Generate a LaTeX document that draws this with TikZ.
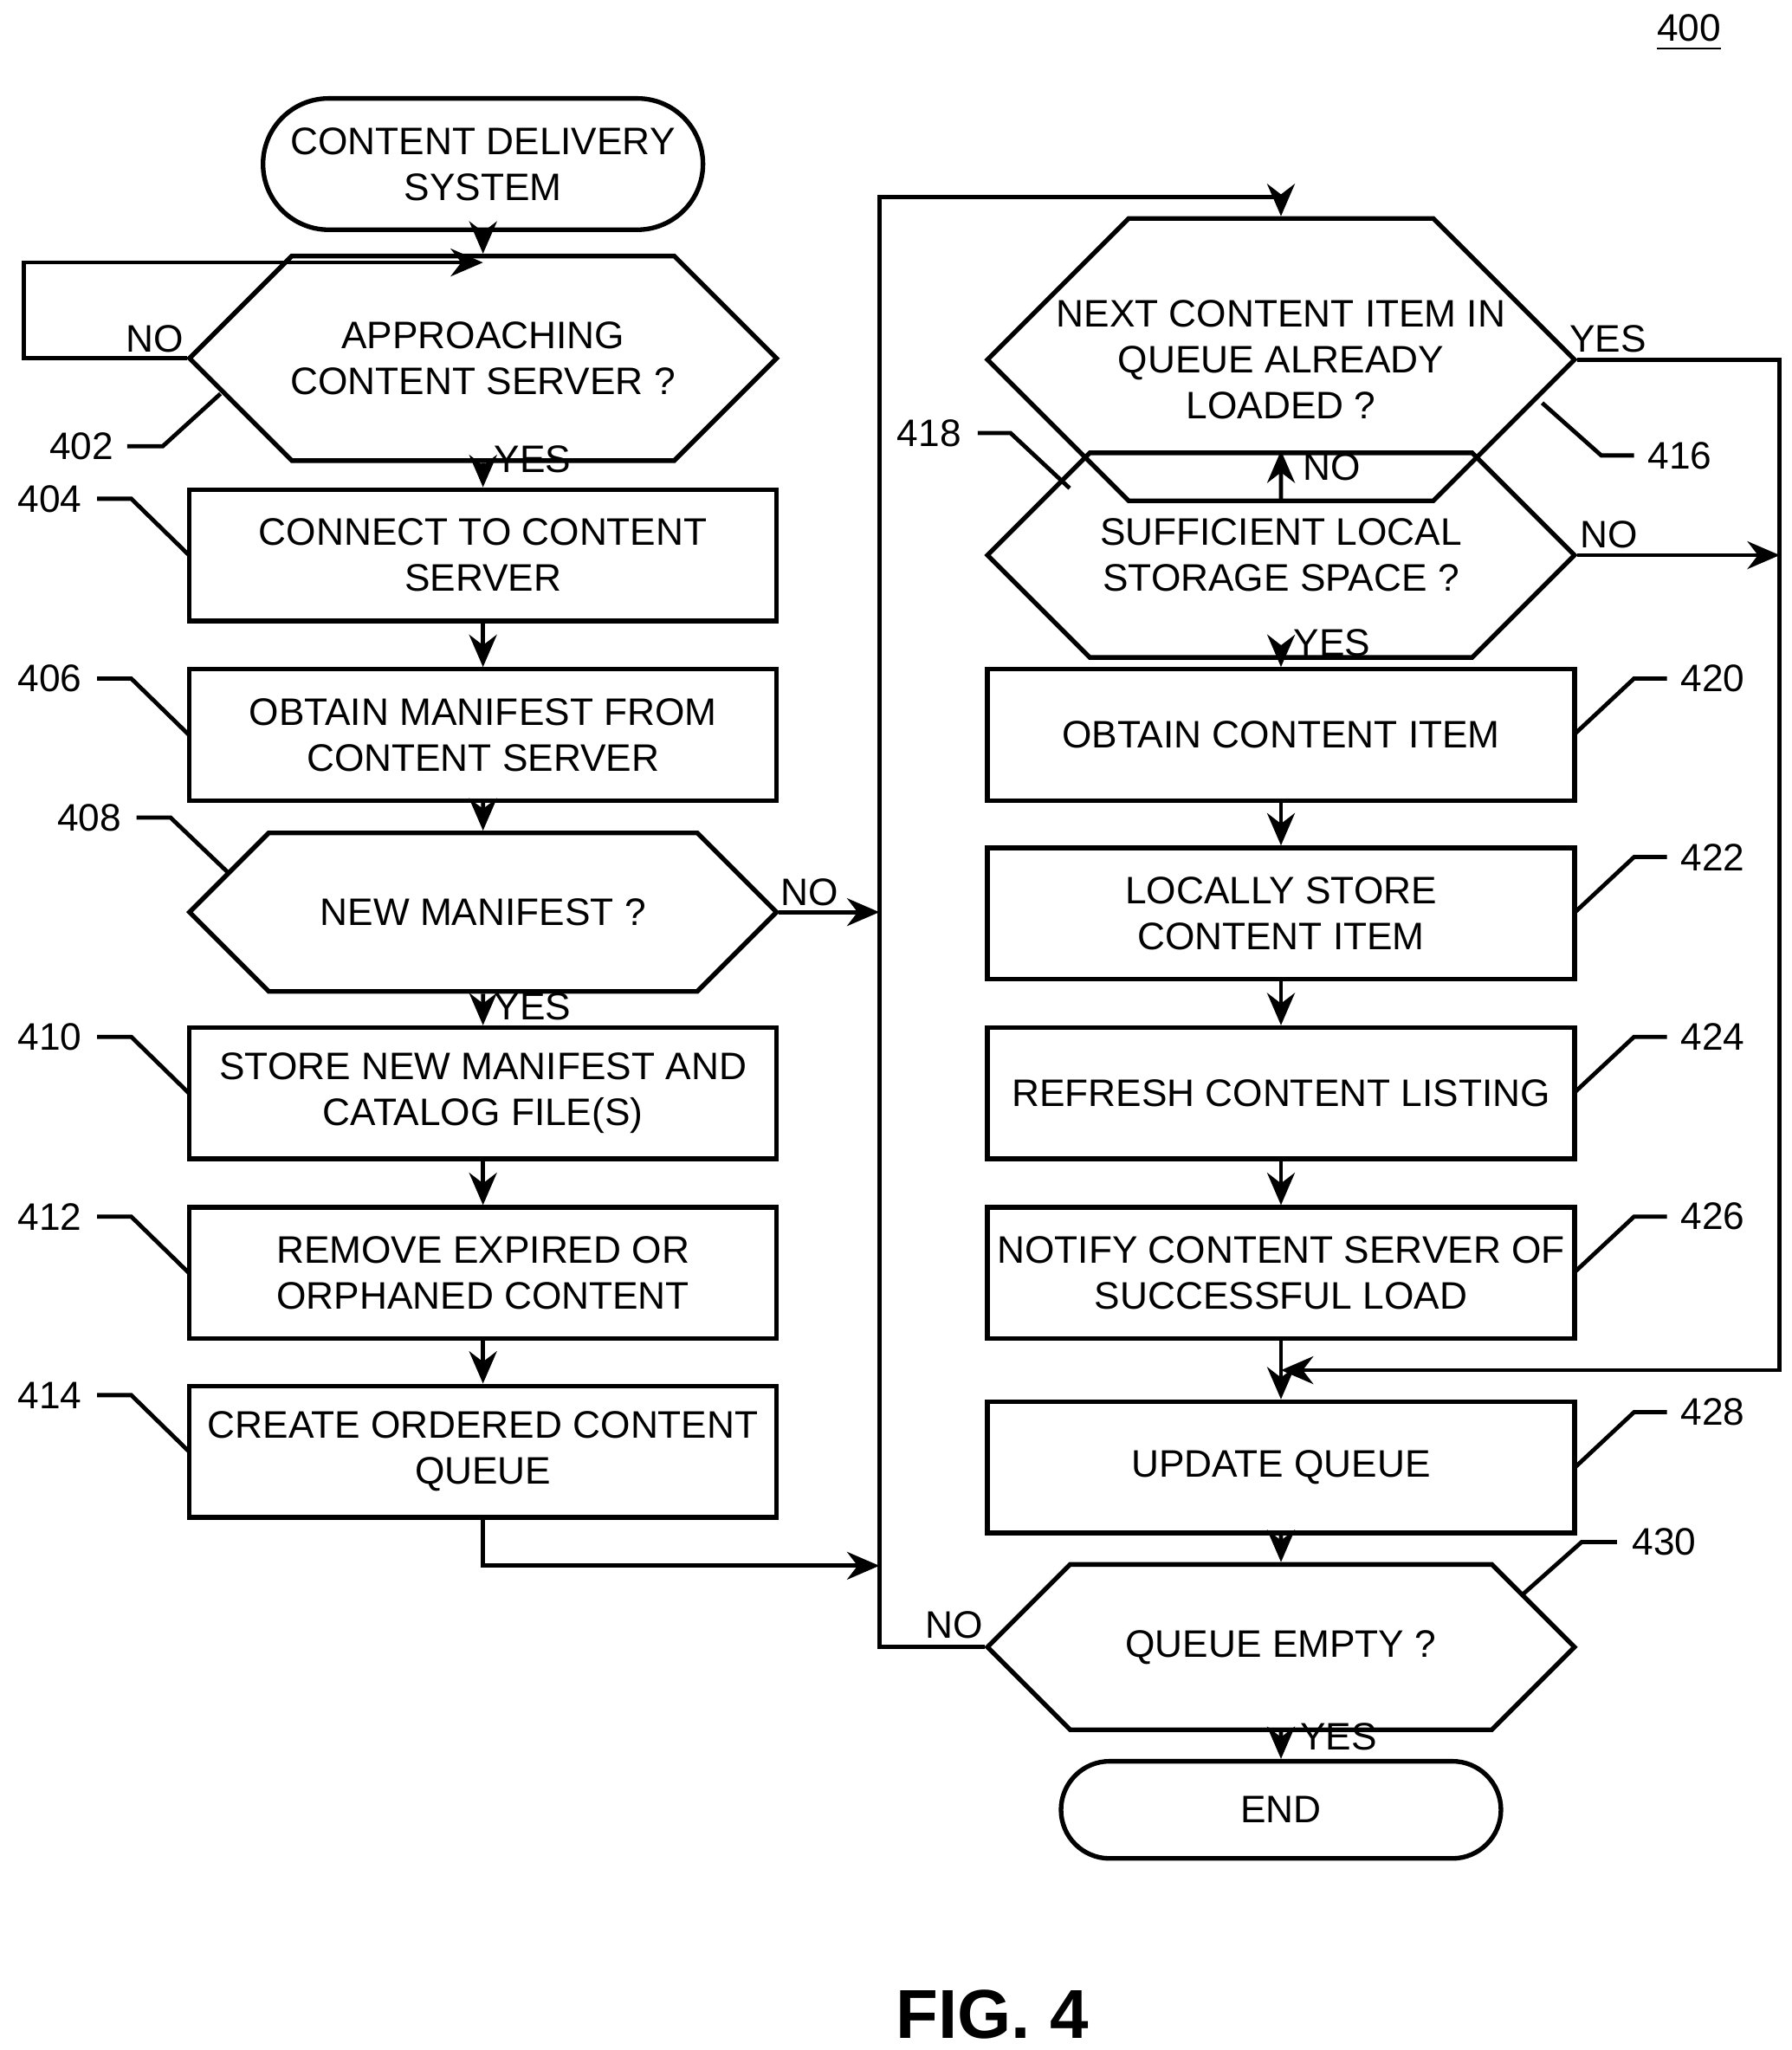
\documentclass[tikz,border=0pt]{standalone}
\usepackage{fontspec}
\setmainfont{Liberation Sans}
\usetikzlibrary{shapes.misc,arrows.meta}
\begin{document}
\begin{tikzpicture}[x=0.01cm,y=-0.01cm,font=\fontsize{8.3}{10}\selectfont,
 every path/.style={line width=0.9pt},
 box/.style={draw,line width=1pt,minimum width=4.47cm,minimum height=1cm,inner sep=0,align=center},
 hex/.style={draw,line width=1pt,chamfered rectangle,chamfered rectangle xsep=0.48cm,chamfered rectangle ysep=0.5cm,minimum width=4.47cm,minimum height=1cm,inner sep=0,align=center},
 term/.style={draw,line width=1pt,rounded rectangle,minimum width=3.35cm,inner sep=0,align=center},
 arr/.style={-{Stealth[length=7pt,width=6pt]}},
 lab/.style={inner sep=1pt}]
\useasboundingbox (0,0) rectangle (1365,1562);
\node[term,minimum height=1cm] (s) at (368,125) {CONTENT DELIVERY\\SYSTEM};
\node[hex] (d402) at (368,273) {APPROACHING\\CONTENT SERVER ?};
\node[box] (b404) at (368,423) {CONNECT TO CONTENT\\SERVER};
\node[box] (b406) at (368,560) {OBTAIN MANIFEST FROM\\CONTENT SERVER};
\node[hex] (d408) at (368,695) {NEW MANIFEST ?};
\node[box] (b410) at (368,833) {STORE NEW MANIFEST AND\\CATALOG FILE(S)};
\node[box] (b412) at (368,970) {REMOVE EXPIRED OR\\ORPHANED CONTENT};
\node[box] (b414) at (368,1106) {CREATE ORDERED CONTENT\\QUEUE};
\node[hex,minimum height=1.24cm,chamfered rectangle ysep=0.62cm] (d416) at (976,274) {NEXT CONTENT ITEM IN\\QUEUE ALREADY\\LOADED ?};
\node[hex] (d418) at (976,423) {SUFFICIENT LOCAL\\STORAGE SPACE ?};
\node[box] (b420) at (976,560) {OBTAIN CONTENT ITEM};
\node[box] (b422) at (976,696) {LOCALLY STORE\\CONTENT ITEM};
\node[box] (b424) at (976,833) {REFRESH CONTENT LISTING};
\node[box] (b426) at (976,970) {NOTIFY CONTENT SERVER OF\\SUCCESSFUL LOAD};
\node[box] (b428) at (976,1118) {UPDATE QUEUE};
\node[hex] (d430) at (976,1255) {QUEUE EMPTY ?};
\node[term,minimum height=0.74cm] (e) at (976,1379) {END};
% connectors
\draw[arr] (s) -- (d402);
\draw[arr] (d402.west) -- (18,273) -- (18,200) -- (368,200);
\draw[arr] (d402) -- (b404);
\draw[arr] (b404) -- (b406);
\draw[arr] (b406) -- (d408);
\draw[arr] (d408) -- (b410);
\draw[arr] (b410) -- (b412);
\draw[arr] (b412) -- (b414);
\coordinate (j1) at (670,695);
\coordinate (j2) at (670,1193);
\draw[arr] (d408.east) -- (j1);
\draw[arr] (b414.south) -- (368,1193) -- (j2);
\draw[arr] (d430.west) -- (670,1255) -- (670,150) -- (976,150) -- (d416.north);
\draw[arr] (d416) -- (d418);
\draw[arr] (d418) -- (b420);
\draw[arr] (b420) -- (b422);
\draw[arr] (b422) -- (b424);
\draw[arr] (b424) -- (b426);
\draw[arr] (b426) -- (b428);
\draw[arr] (b428) -- (d430);
\draw[arr] (d430) -- (e);
\coordinate (j3) at (976,1044);
\draw[arr] (d416.east) -- (1356,274) -- (1356,1044) -- (j3);
\draw[arr] (d418.east) -- (1356,423);
% yes/no
\node[lab] at (118,258) {NO};
\node[lab] at (406,350) {YES};
\node[lab] at (617,680) {NO};
\node[lab] at (406,767) {YES};
\node[lab] at (1225,258) {YES};
\node[lab] at (1015,356) {NO};
\node[lab] at (1226,407) {NO};
\node[lab] at (1015,490) {YES};
\node[lab] at (727,1238) {NO};
\node[lab] at (1020,1323) {YES};
% refs
\node[lab] at (62,340) {402}; \draw (97,340) -- (124,340) -- (168,300);
\foreach \n/\y/\c in {404/380/423,406/517/560,410/790/833,412/927/970,414/1063/1106}
 {\node[lab] at (38,\y) {\n}; \draw (74,\y) -- (100,\y) -- (144,\y+43);}
\node[lab] at (68,623) {408}; \draw (104,623) -- (130,623) -- (175,666);
\foreach \n/\y in {420/517,422/653,424/790,426/927,428/1076}
 {\node[lab] at (1305,\y) {\n}; \draw (1270,\y) -- (1245,\y) -- (1199,\y+43);}
\node[lab] at (1280,347) {416}; \draw (1245,347) -- (1220,347) -- (1175,307);
\node[lab] at (708,330) {418}; \draw (745,330) -- (770,330) -- (815,372);
\node[lab] at (1268,1175) {430}; \draw (1232,1175) -- (1205,1175) -- (1160,1215);
\node[lab] at (1287,25) {\underline{400}};
\node at (756,1535) {\fontsize{15}{18}\selectfont\bfseries FIG. 4};
\end{tikzpicture}
\end{document}
